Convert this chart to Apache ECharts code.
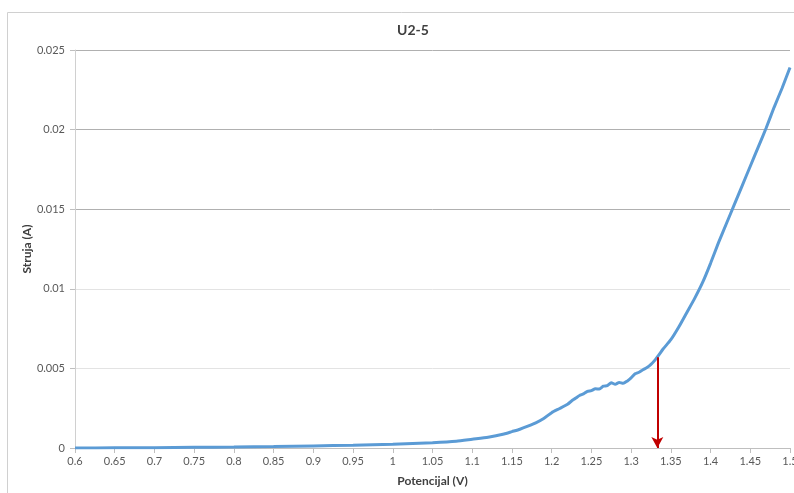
<!DOCTYPE html>
<html>
<head>
<meta charset="utf-8">
<title>U2-5</title>
<script src="https://cdn.jsdelivr.net/npm/echarts@6/dist/echarts.min.js"></script>
<style>
  html, body { margin: 0; padding: 0; background: #fff; }
  #chart { width: 794px; height: 493px; }
</style>
</head>
<body>
<div id="chart"></div>
<script>
// Polarization curve U2-5: current (A) versus potential (V)
const potential = [
  0.60, 0.65, 0.70, 0.75, 0.80, 0.85, 0.90, 0.95, 1.00, 1.05,
  1.08, 1.10, 1.12, 1.14, 1.15, 1.16, 1.17, 1.18, 1.19, 1.20,
  1.21, 1.22, 1.225, 1.23, 1.235, 1.24, 1.245, 1.25, 1.255, 1.26,
  1.265, 1.27, 1.275, 1.28, 1.285, 1.29, 1.295, 1.30, 1.305, 1.31,
  1.315, 1.32, 1.325, 1.33, 1.335, 1.34, 1.35, 1.36, 1.37, 1.38,
  1.39, 1.40, 1.41, 1.42, 1.43, 1.44, 1.45, 1.46, 1.47, 1.48,
  1.49, 1.50
];
const current = [
  0.00000, 0.00001, 0.00002, 0.00004, 0.00006, 0.00009, 0.00013, 0.00017, 0.00023, 0.00033,
  0.00042, 0.00055, 0.00068, 0.00088, 0.00103, 0.00118, 0.00137, 0.00158, 0.00185, 0.00222,
  0.00248, 0.00275, 0.00295, 0.00312, 0.00330, 0.00340, 0.00356, 0.00360, 0.00372, 0.00370,
  0.00388, 0.00392, 0.00410, 0.00400, 0.00412, 0.00406, 0.00420, 0.00440, 0.00466, 0.00476,
  0.00492, 0.00505, 0.00525, 0.00552, 0.00585, 0.00620, 0.00680, 0.00760, 0.00850, 0.00940,
  0.01040, 0.01160, 0.01290, 0.01410, 0.01530, 0.01650, 0.01770, 0.01890, 0.02010, 0.02140,
  0.02260, 0.02390
];

// Marked potential (arrow drawn down to the x axis)
const markedPotential = 1.333;
const markedCurrent = 0.0057;

const xTicks = { min: 0.6, max: 1.5, step: 0.05 };
const yTicks = { min: 0, max: 0.025, step: 0.005 };

const font = 'Lato, "Open Sans", "Liberation Sans", sans-serif';
const fmt = v => String(+v.toFixed(3));

const chart = echarts.init(document.getElementById('chart'), null, { renderer: 'canvas' });

chart.setOption({
  animation: false,
  backgroundColor: '#ffffff',
  textStyle: { fontFamily: font },
  graphic: [{
    type: 'rect',
    silent: true,
    shape: { x: 7.5, y: 12.5, width: 820, height: 520 },
    style: { fill: 'none', stroke: '#d0d0d0', lineWidth: 1 }
  }],
  title: {
    text: 'U2-5',
    left: 408,
    textAlign: 'center',
    top: 18,
    textStyle: { fontFamily: font, fontSize: 14, fontWeight: 'bold', color: '#404040' }
  },
  grid: { left: 75, top: 50, right: 4, bottom: 45, containLabel: false, outerBoundsMode: 'none' },
  xAxis: {
    type: 'value',
    min: xTicks.min,
    max: xTicks.max,
    interval: xTicks.step,
    name: 'Potencijal (V)',
    nameLocation: 'middle',
    nameGap: 27,
    nameMoveOverlap: false,
    nameTextStyle: { fontFamily: font, fontSize: 12, fontWeight: 'bold', color: '#404040' },
    axisLine: { show: true, lineStyle: { color: '#bfbfbf', width: 1 } },
    axisTick: { show: true, length: 5, lineStyle: { color: '#bfbfbf' } },
    axisLabel: { fontFamily: font, fontSize: 11, color: '#595959', margin: 8, formatter: fmt, showMaxLabel: true, hideOverlap: false },
    splitLine: { show: false }
  },
  yAxis: {
    type: 'value',
    min: yTicks.min,
    max: yTicks.max,
    interval: yTicks.step,
    name: 'Struja (A)',
    nameLocation: 'middle',
    nameRotate: 90,
    nameGap: 42,
    nameMoveOverlap: false,
    nameTextStyle: { fontFamily: font, fontSize: 12, fontWeight: 'bold', color: '#404040' },
    axisLine: { show: true, lineStyle: { color: '#d0d0d0', width: 1 } },
    axisTick: { show: true, length: 5, lineStyle: { color: '#bfbfbf' } },
    axisLabel: { fontFamily: font, fontSize: 11, color: '#595959', margin: 10, formatter: fmt },
    splitLine: {
      show: true,
      lineStyle: { color: ['#d9d9d9', '#e3e3e3', '#e3e3e3', '#b0b0b0', '#b0b0b0', '#b0b0b0'], width: 1 }
    }
  },
  series: [{
    type: 'line',
    data: potential.map((p, i) => [p, current[i]]),
    showSymbol: false,
    symbol: 'none',
    smooth: 0.2,
    clip: true,
    lineStyle: { color: '#5b9bd5', width: 3 },
    markLine: {
      silent: true,
      symbol: ['none', 'arrow'],
      symbolSize: [9, 11],
      label: { show: false },
      lineStyle: { color: '#c00000', width: 2, type: 'solid' },
      data: [[
        { coord: [markedPotential, markedCurrent] },
        { coord: [markedPotential, 0] }
      ]]
    }
  }]
});
</script>
</body>
</html>
